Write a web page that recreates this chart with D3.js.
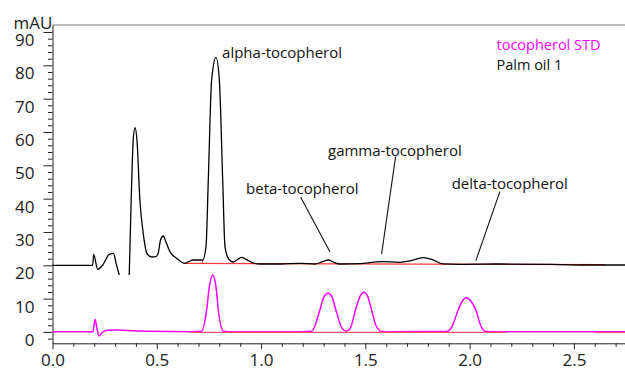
<!DOCTYPE html>
<html>
<head>
<meta charset="utf-8">
<script src="https://cdn.jsdelivr.net/npm/d3@7"></script>
<style>
  body { margin: 0; background: #fff; }
  svg text { font-family: "Open Sans", "Noto Sans", sans-serif; }
</style>
</head>
<body>
<div id="chart"></div>
<script>
// retention time (min) and signal (mAU)
var oilTime1 = [0, 0.193, 0.197, 0.217, 0.243, 0.272, 0.292, 0.305, 0.320];
var oilSig1  = [20, 20, 23.3, 18.8, 20.3, 23.3, 23.6, 20.6, 17.1];
var oilTime2 = [0.368, 0.376, 0.387, 0.395, 0.405, 0.419, 0.435, 0.454, 0.477, 0.496, 0.507, 0.518, 0.531, 0.544, 0.563, 0.595, 0.635, 0.650, 0.675, 0.720,
  0.736, 0.747, 0.763, 0.784, 0.800, 0.816, 0.827, 0.843, 0.867, 0.884, 0.907, 0.928, 0.955, 0.995, 1.091, 1.186, 1.258, 1.292, 1.322, 1.349,
  1.378, 1.474, 1.578, 1.666, 1.714, 1.778, 1.825, 1.873, 1.953, 2.145, 2.395, 2.529, 2.745];
var oilSig2  = [17.1, 36.6, 57.6, 61.3, 57.6, 39.6, 29.6, 23.4, 22.5, 22.6, 23.7, 27.6, 28.8, 27.0, 24.1, 22.1, 20.6, 21.0, 21.6, 21.6,
  25.6, 45.6, 75.6, 82.4, 75.6, 45.6, 25.6, 22.1, 21.0, 21.6, 22.4, 21.8, 20.9, 20.4, 20.4, 20.6, 20.4, 21.0, 21.6, 20.9,
  20.4, 20.5, 21.1, 20.9, 21.3, 22.3, 21.6, 20.4, 20.3, 20.4, 20.3, 20.1, 20.1];

var stdTime = [0, 0.194, 0.204, 0.211, 0.222, 0.242, 0.266, 0.300, 0.372, 0.467, 0.659, 0.715, 0.739, 0.752, 0.768, 0.784, 0.795, 0.819, 0.841,
  1.186, 1.243, 1.282, 1.299, 1.322, 1.342, 1.359, 1.383, 1.406, 1.426, 1.453, 1.473, 1.493, 1.512, 1.530, 1.550, 1.578, 1.618,
  1.890, 1.915, 1.945, 1.965, 1.985, 2.006, 2.030, 2.054, 2.078, 2.145, 2.745];
var stdSig  = [0.1, 0.1, 3.8, 1.8, -1.2, 0, 0.5, 0.6, 0.4, 0.2, 0.1, 0.2, 6.6, 13.6, 17.1, 13.6, 6.6, 0.3, 0.1,
  0.1, 0.2, 6.6, 10.2, 11.6, 10.2, 6.6, 1.8, 0.3, 0.9, 6.6, 10.5, 11.9, 10.5, 6.6, 2.1, 0.15, 0.1,
  0.15, 1.5, 6.6, 9.3, 10.3, 9.3, 6.6, 1.8, 0.15, 0.1, 0.1];

// integration baselines [t0, v0, t1, v1]
var oilBaselines = [[0.635, 20.6, 2.648, 20.2]];
var oilMarkers = [[0.720, 20.5, 21.6], [0.867, 20.4, 21.0]];
var stdBaselines = [[0.66, -0.15, 2.175, -0.15], [2.60, -0.15, 2.745, -0.15]];

var peakNames = ["alpha-tocopherol", "beta-tocopherol", "gamma-tocopherol", "delta-tocopherol"];
var labelTime = [0.813, 0.928, 1.321, 1.914];
var labelSig  = [82.2, 41.4, 52.8, 42.9];
var leaderFrom = [null, [1.190, 40.4], [1.645, 52.6], [2.145, 42.1]];
var leaderTo   = [null, [1.330, 24.1], [1.578, 23.4], [2.030, 21.4]];

var seriesNames = ["tocopherol STD", "Palm oil 1"];
var seriesColors = ["#ff00ff", "#000000"];

var xTicks = [0, 0.5, 1.0, 1.5, 2.0, 2.5];
var yTicks = [0, 10, 20, 30, 40, 50, 60, 70, 80, 90];

var w = 625, h = 370;
var margin = {top: 25, right: 0, bottom: 26.7, left: 52.5};

var svg = d3.select("#chart").append("svg")
  .attr("width", w)
  .attr("height", h);

var x = d3.scaleLinear().domain([0, 2.745]).range([margin.left, w - margin.right]);
var y = d3.scaleLinear().domain([-3.4, 92.1]).range([h - margin.bottom, margin.top]);

// top frame line
svg.append("line")
  .attr("x1", margin.left).attr("x2", w)
  .attr("y1", margin.top).attr("y2", margin.top)
  .attr("stroke", "#777").attr("stroke-width", 1);

// minor ticks
var yMinor = d3.range(-2, 92, 2).filter((d)=>d % 10 !== 0);
var xMinor = d3.range(0, 27.5, 1).map((d)=>d / 10).filter((d)=>Math.round(d * 10) % 5 !== 0);

var yAxis = svg.append("g")
  .attr("class", "axis")
  .attr("transform", "translate(" + margin.left + ",0)")
  .call(d3.axisLeft(y).tickValues(yTicks).tickSize(9).tickPadding(9).tickSizeOuter(0));
yAxis.selectAll(".tick text").attr("dy", "0.8em");
svg.append("g")
  .attr("transform", "translate(" + margin.left + ",0)")
  .call(d3.axisLeft(y).tickValues(yMinor).tickSize(4.5).tickFormat("").tickSizeOuter(0))
  .select(".domain").remove();

var xAxis = svg.append("g")
  .attr("class", "axis")
  .attr("transform", "translate(0," + (h - margin.bottom) + ")")
  .call(d3.axisBottom(x).tickValues(xTicks).tickSize(6).tickPadding(5).tickFormat(d3.format(".1f")).tickSizeOuter(0));
svg.append("g")
  .attr("transform", "translate(0," + (h - margin.bottom) + ")")
  .call(d3.axisBottom(x).tickValues(xMinor).tickSize(3.5).tickFormat("").tickSizeOuter(0))
  .select(".domain").remove();

svg.selectAll(".tick line").attr("stroke", "#222");
svg.selectAll(".axis .domain").attr("stroke", "#222");
svg.selectAll(".axis text")
  .attr("font-size", "17px")
  .attr("fill", "#222")
  .style("font-family", "'Open Sans', sans-serif");

svg.append("text")
  .attr("x", margin.left).attr("y", 28.5)
  .attr("text-anchor", "end")
  .attr("font-size", "17px")
  .attr("fill", "#222")
  .text("mAU");

var line = d3.line()
  .defined((d)=>d != null)
  .x((d)=>x(d[0]))
  .y((d)=>y(d[1]))
  .curve(d3.curveMonotoneX);

var oil1 = oilTime1.map((t, i)=>[t, oilSig1[i]]);
var oil2 = oilTime2.map((t, i)=>[t, oilSig2[i]]);
var std = stdTime.map((t, i)=>[t, stdSig[i]]);

// palm oil baseline under trace
svg.selectAll(".oilBase")
  .data(oilBaselines)
  .enter()
  .append("line")
  .attr("x1", (d)=>x(d[0])).attr("y1", (d)=>y(d[1]))
  .attr("x2", (d)=>x(d[2])).attr("y2", (d)=>y(d[3]))
  .attr("stroke", "#ff3b3b").attr("stroke-width", 1.2);
svg.selectAll(".oilMark")
  .data(oilMarkers)
  .enter()
  .append("line")
  .attr("x1", (d)=>x(d[0])).attr("y1", (d)=>y(d[1]))
  .attr("x2", (d)=>x(d[0])).attr("y2", (d)=>y(d[2]))
  .attr("stroke", "#ff3b3b").attr("stroke-width", 1);

svg.append("path")
  .datum(std)
  .attr("d", line)
  .attr("fill", "none")
  .attr("stroke", seriesColors[0])
  .attr("stroke-width", 1.5);

svg.selectAll(".stdBase")
  .data(stdBaselines)
  .enter()
  .append("line")
  .attr("x1", (d)=>x(d[0])).attr("y1", (d)=>y(d[1]))
  .attr("x2", (d)=>x(d[2])).attr("y2", (d)=>y(d[3]))
  .attr("stroke", "#f5506a").attr("stroke-width", 1.2);

[oil1, oil2].forEach((seg)=>{
  svg.append("path")
    .datum(seg)
    .attr("d", line)
    .attr("fill", "none")
    .attr("stroke", seriesColors[1])
    .attr("stroke-width", 1.3);
});

// peak labels and leader lines
peakNames.forEach((name, i)=>{
  svg.append("text")
    .attr("x", x(labelTime[i]))
    .attr("y", y(labelSig[i]))
    .attr("font-size", "15px")
    .attr("fill", "#111")
    .text(name);
  if(leaderFrom[i]){
    svg.append("line")
      .attr("x1", x(leaderFrom[i][0])).attr("y1", y(leaderFrom[i][1]))
      .attr("x2", x(leaderTo[i][0])).attr("y2", y(leaderTo[i][1]))
      .attr("stroke", "#111").attr("stroke-width", 1.1);
  }
});

// legend
seriesNames.forEach((name, i)=>{
  svg.append("text")
    .attr("x", 496.5)
    .attr("y", 49.5 + i * 20)
    .attr("font-size", "14.5px")
    .attr("fill", seriesColors[i] === "#000000" ? "#111" : seriesColors[i])
    .text(name);
});
</script>
</body>
</html>
